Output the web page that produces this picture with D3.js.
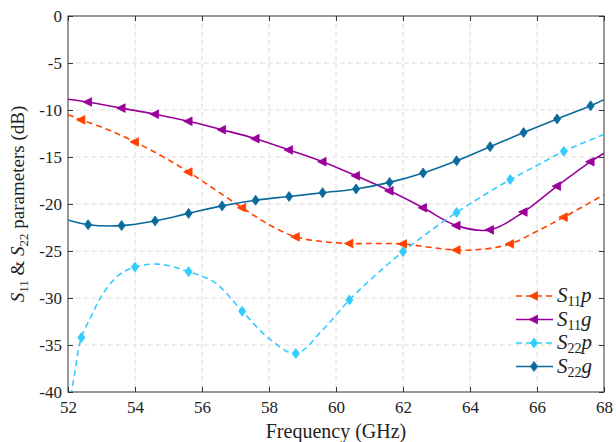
<!DOCTYPE html>
<html>
<head>
<meta charset="utf-8">
<script src="https://cdn.jsdelivr.net/npm/d3@7"></script>
<style>
  body { margin: 0; background: #fff; }
  svg text { font-family: 'Liberation Serif', 'Times New Roman', Times, 'DejaVu Serif', serif; fill: #222; }
</style>
</head>
<body>
<div id="chart"></div>
<script>
// data (frequency in GHz, level in dB)
const s11pFreq = [52.0, 52.4, 53.2, 54.0, 54.8, 55.6, 56.4, 57.2, 58.0, 58.8, 59.6, 60.4, 61.2, 62.0, 62.8, 63.6, 64.4, 65.2, 66.0, 66.8, 68.0];
const s11pDb   = [-10.5, -11.05, -12.1, -13.4, -14.9, -16.6, -18.5, -20.4, -22.2, -23.5, -24.0, -24.2, -24.2, -24.25, -24.6, -24.9, -24.8, -24.25, -22.9, -21.4, -19.0];

const s22pFreq = [52.0, 52.2, 52.4, 52.7, 53.0, 53.5, 54.0, 54.7, 55.6, 56.4, 57.2, 58.0, 58.8, 59.6, 60.4, 61.2, 62.0, 62.8, 63.6, 64.4, 65.2, 66.0, 66.8, 68.0];
const s22pDb   = [-42.5, -38.0, -34.2, -31.9, -29.8, -27.6, -26.7, -26.4, -27.2, -28.4, -31.4, -34.3, -35.9, -33.4, -30.2, -27.5, -25.07, -22.9, -20.9, -19.1, -17.4, -15.9, -14.4, -12.6];

const gFreq  = [52.0, 52.6, 53.6, 54.6, 55.6, 56.6, 57.6, 58.6, 59.6, 60.6, 61.6, 62.6, 63.6, 64.6, 65.6, 66.6, 67.6, 68.0];
const s11gDb = [-8.85, -9.15, -9.8, -10.45, -11.2, -12.1, -13.05, -14.25, -15.5, -17.0, -18.6, -20.4, -22.3, -22.75, -20.85, -18.1, -15.5, -14.6];
const s22gDb = [-21.7, -22.2, -22.3, -21.8, -21.0, -20.2, -19.6, -19.2, -18.8, -18.4, -17.7, -16.7, -15.4, -13.9, -12.4, -10.95, -9.55, -8.9];

// where the markers sit
const markP = [52.4, 54.0, 55.6, 57.2, 58.8, 60.4, 62.0, 63.6, 65.2, 66.8];
const markG = [52.6, 53.6, 54.6, 55.6, 56.6, 57.6, 58.6, 59.6, 60.6, 61.6, 62.6, 63.6, 64.6, 65.6, 66.6, 67.6];

const xTicks = [52, 54, 56, 58, 60, 62, 64, 66, 68];
const yTicks = [0, -5, -10, -15, -20, -25, -30, -35, -40];

const series = [
  { name: 'S', sub: '11', tail: 'p', freq: s11pFreq, db: s11pDb, marks: markP, color: '#ff4200', dash: '6,4', shape: 'tri' },
  { name: 'S', sub: '11', tail: 'g', freq: gFreq, db: s11gDb, marks: markG, color: '#990099', dash: null, shape: 'tri' },
  { name: 'S', sub: '22', tail: 'p', freq: s22pFreq, db: s22pDb, marks: markP, color: '#33ccff', dash: '6,4', shape: 'dia' },
  { name: 'S', sub: '22', tail: 'g', freq: gFreq, db: s22gDb, marks: markG, color: '#0b6a9c', dash: null, shape: 'dia' }
];

const W = 616, H = 442;
const pL = 68, pR = 604, pT = 16, pB = 392;
const serif = "'Liberation Serif', 'Times New Roman', Times, 'DejaVu Serif', serif";

const svg = d3.select('#chart').append('svg')
    .attr('width', W)
    .attr('height', H);

const x = d3.scaleLinear().domain([52, 68]).range([pL, pR]);
const y = d3.scaleLinear().domain([-40, 0]).range([pB, pT]);

svg.append('clipPath').attr('id', 'plotclip')
  .append('rect')
    .attr('x', pL).attr('y', pT)
    .attr('width', pR - pL).attr('height', pB - pT);

// grid
const grid = svg.append('g').attr('stroke', '#dedede').attr('stroke-width', 1).attr('stroke-dasharray', '5,3');
grid.selectAll('.gx').data(xTicks.slice(1, -1)).enter().append('line')
    .attr('x1', d => x(d)).attr('x2', d => x(d))
    .attr('y1', pT).attr('y2', pB);
grid.selectAll('.gy').data(yTicks.slice(1, -1)).enter().append('line')
    .attr('x1', pL).attr('x2', pR)
    .attr('y1', d => y(d)).attr('y2', d => y(d));

// axes, MATLAB-like ticks pointing in
const fmt = d => String(d);
svg.append('g').attr('transform', `translate(0,${pB})`)
    .call(d3.axisBottom(x).tickValues(xTicks).tickFormat(fmt).tickSize(-5).tickSizeOuter(0).tickPadding(9));
svg.append('g').attr('transform', `translate(${pL},0)`)
    .call(d3.axisLeft(y).tickValues(yTicks).tickFormat(fmt).tickSize(-5).tickSizeOuter(0).tickPadding(6));
svg.append('g').attr('transform', `translate(0,${pT})`)
    .call(d3.axisTop(x).tickValues(xTicks).tickSize(-5).tickSizeOuter(0).tickFormat(''));
svg.append('g').attr('transform', `translate(${pR},0)`)
    .call(d3.axisRight(y).tickValues(yTicks).tickSize(-5).tickSizeOuter(0).tickFormat(''));

svg.selectAll('.domain').remove();
svg.selectAll('g').attr('font-family', null);
svg.selectAll('.tick line').attr('stroke', '#333');
svg.selectAll('.tick text')
    .style('font-family', serif)
    .style('font-size', '17px')
    .attr('fill', '#222');

svg.append('rect')
    .attr('x', pL).attr('y', pT)
    .attr('width', pR - pL).attr('height', pB - pT)
    .attr('fill', 'none').attr('stroke', '#333').attr('stroke-width', 1);

// marker shapes
const triPath = 'M-5,0L3.5,-4.3L3.5,4.3Z';
const diaPath = 'M0,-5L3.6,0L0,5L-3.6,0Z';

const plot = svg.append('g').attr('clip-path', 'url(#plotclip)');
const line = d3.line()
    .x(d => x(d[0]))
    .y(d => y(d[1]))
    .curve(d3.curveCatmullRom.alpha(0.5));

series.forEach(s => {
  const pts = s.freq.map((f, i) => [f, s.db[i]]);
  plot.append('path')
      .datum(pts)
      .attr('d', line)
      .attr('fill', 'none')
      .attr('stroke', s.color)
      .attr('stroke-width', 1.6)
      .attr('stroke-dasharray', s.dash);
  const mk = pts.filter(p => s.marks.some(m => Math.abs(m - p[0]) < 1e-6));
  plot.selectAll(null).data(mk).enter().append('path')
      .attr('transform', d => `translate(${x(d[0])},${y(d[1])})`)
      .attr('d', s.shape === 'tri' ? triPath : diaPath)
      .attr('fill', s.color)
      .attr('stroke', s.color)
      .attr('stroke-width', 0.8);
});

// legend
const legend = svg.append('g');
series.forEach((s, i) => {
  const ly = 296 + i * 23.5;
  legend.append('line')
      .attr('x1', 516).attr('x2', 553)
      .attr('y1', ly).attr('y2', ly)
      .attr('stroke', s.color).attr('stroke-width', 1.6)
      .attr('stroke-dasharray', s.dash);
  legend.append('path')
      .attr('transform', `translate(534,${ly})`)
      .attr('d', s.shape === 'tri' ? triPath : diaPath)
      .attr('fill', s.color).attr('stroke', s.color).attr('stroke-width', 0.8);
  const t = legend.append('text')
      .attr('x', 557).attr('y', ly + 6)
      .style('font-family', serif)
      .style('font-size', '21px');
  t.append('tspan').style('font-style', 'italic').text(s.name);
  t.append('tspan').attr('dy', 4).style('font-size', '14px').text(s.sub);
  t.append('tspan').attr('dy', -4).style('font-style', 'italic').text(s.tail);
});

// axis labels
svg.append('text')
    .attr('x', (pL + pR) / 2).attr('y', 438)
    .attr('text-anchor', 'middle')
    .style('font-family', serif)
    .style('font-size', '20px')
    .text('Frequency (GHz)');

const yl = svg.append('text')
    .attr('transform', `translate(24,${(pT + pB) / 2})rotate(-90)`)
    .attr('text-anchor', 'middle')
    .style('font-family', serif)
    .style('font-size', '19px');
yl.append('tspan').style('font-style', 'italic').text('S');
yl.append('tspan').attr('dy', 4).style('font-size', '13px').text('11');
yl.append('tspan').attr('dy', -4).text(' & ');
yl.append('tspan').style('font-style', 'italic').text('S');
yl.append('tspan').attr('dy', 4).style('font-size', '13px').text('22');
yl.append('tspan').attr('dy', -4).text(' parameters (dB)');
</script>
</body>
</html>
